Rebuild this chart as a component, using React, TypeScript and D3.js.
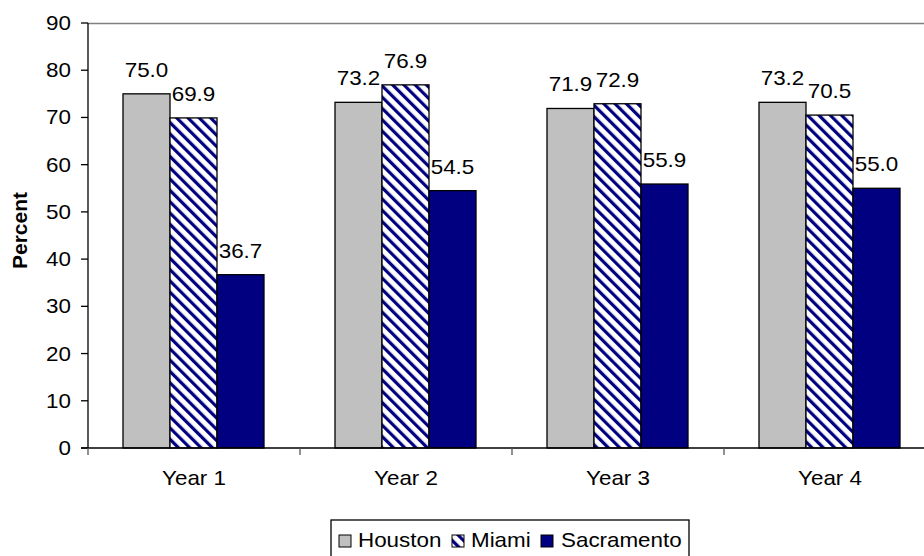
import React from "react";
import * as d3 from "d3";

const categories = ["Year 1", "Year 2", "Year 3", "Year 4"];
const seriesNames = ["Houston", "Miami", "Sacramento"];
const houston = [75.0, 73.2, 71.9, 73.2];
const miami = [69.9, 76.9, 72.9, 70.5];
const sacramento = [36.7, 54.5, 55.9, 55.0];
const yTicks = [0, 10, 20, 30, 40, 50, 60, 70, 80, 90];
const yLabel = "Percent";

const W = 924;
const H = 556;
const FONT = "'Liberation Sans', Arial, Helvetica, sans-serif";
const fills = ["#C0C0C0", "url(#hatch)", "#000080"];
const SX = 1.12;

function T(props: { x: number; y: number; anchor?: string; children: React.ReactNode; size?: number }) {
  return (
    <text
      transform={`translate(${props.x},${props.y}) scale(${SX},1)`}
      textAnchor={props.anchor || "start"}
      fontSize={props.size || 20}
      fill="#000"
    >
      {props.children}
    </text>
  );
}

export default function App() {
  const seriesValues = [houston, miami, sacramento];
  const left = 88;
  const catW = 212;
  const x = d3
    .scaleBand<string>()
    .domain(categories)
    .range([left, left + catW * categories.length])
    .padding(0);
  const xi = d3.scaleBand<string>().domain(seriesNames).range([35, 176]).padding(0);
  const y = d3.scaleLinear().domain([0, 90]).range([448, 23]);

  const legendItems = [
    { sw: 339, tx: 358 },
    { sw: 452, tx: 471 },
    { sw: 541, tx: 561 },
  ];

  return (
    <svg
      width={W}
      height={H}
      style={{ position: "absolute", left: 0, top: 0, background: "#fff" }}
      fontFamily={FONT}
    >
      <defs>
        <pattern
          id="hatch"
          patternUnits="userSpaceOnUse"
          width={8}
          height={8}
          patternTransform="rotate(-45)"
        >
          <rect x={0} y={0} width={8} height={8} fill="#fff" />
          <rect x={0} y={0} width={3.2} height={8} fill="#000080" />
        </pattern>
      </defs>
      <rect x={0} y={0} width={W} height={H} fill="#fff" />

      {/* plot area top border */}
      <line x1={left} x2={W} y1={y(90) + 0.5} y2={y(90) + 0.5} stroke="#808080" strokeWidth={1.3} />

      {/* bars */}
      {categories.map((c, ci) =>
        seriesNames.map((s, si) => {
          const v = seriesValues[si][ci];
          const bx = (x(c) as number) + (xi(s) as number);
          const bw = xi.bandwidth();
          return (
            <g key={c + s}>
              <rect
                x={bx}
                y={y(v)}
                width={bw}
                height={y(0) - y(v)}
                fill={fills[si]}
                stroke="#000"
                strokeWidth={1.3}
              />
              <T x={bx + bw / 2} y={y(v) - 17} anchor="middle">
                {v.toFixed(1)}
              </T>
            </g>
          );
        })
      )}

      {/* y axis */}
      <line x1={left} x2={left} y1={y(90)} y2={y(0)} stroke="#000" strokeWidth={1.3} />
      {yTicks.map((t) => (
        <g key={t}>
          <line x1={left - 7} x2={left} y1={y(t)} y2={y(t)} stroke="#000" strokeWidth={1.3} />
          <T x={left - 17} y={y(t) + 7} anchor="end">
            {t}
          </T>
        </g>
      ))}

      {/* x axis */}
      <line x1={left - 7} x2={W} y1={y(0)} y2={y(0)} stroke="#000" strokeWidth={1.3} />
      {categories.map((c) => (
        <g key={c}>
          <line
            x1={x(c) as number}
            x2={x(c) as number}
            y1={y(0)}
            y2={y(0) + 7}
            stroke="#555"
            strokeWidth={1.3}
          />
          <T x={(x(c) as number) + x.bandwidth() / 2} y={485} anchor="middle">
            {c}
          </T>
        </g>
      ))}

      {/* y label */}
      <text
        transform={`translate(27, ${(y(90) + y(0)) / 2 - 5}) rotate(-90)`}
        textAnchor="middle"
        fontSize={21}
        fontWeight="bold"
        fill="#000"
      >
        {yLabel}
      </text>

      {/* legend */}
      <rect x={331} y={520} width={358} height={44} fill="#fff" stroke="#000" strokeWidth={1.3} />
      {seriesNames.map((s, si) => (
        <g key={s}>
          <rect
            x={legendItems[si].sw}
            y={535}
            width={12}
            height={12}
            fill={fills[si]}
            stroke="#000"
            strokeWidth={1}
          />
          <T x={legendItems[si].tx} y={547}>
            {s}
          </T>
        </g>
      ))}
    </svg>
  );
}
